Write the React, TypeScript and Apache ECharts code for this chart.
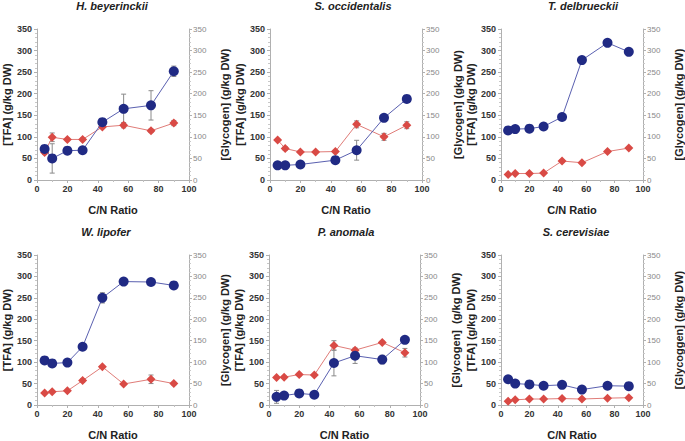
import React, { useEffect, useRef } from "react";
import * as echarts from "echarts";

const CN = [5, 10, 20, 30, 43, 57, 75, 90];
const X_TICKS = [0, 20, 40, 60, 80, 100];
const Y_TICKS = [0, 50, 100, 150, 200, 250, 300, 350];

const TITLES = ["H. beyerinckii", "S. occidentalis", "T. delbrueckii", "W. lipofer", "P. anomala", "S. cerevisiae"];
const LEFT_NAME = "[TFA] (g/kg DW)";
const RIGHT_NAMES = [
  "[Glycogen] (g/kg DW)",
  "[Glycogen] (gkg DW)",
  "[Glycogen] (g/kg DW)",
  "[Glycogen] (g/kg DW)",
  "[Glycogen]  (g/kg DW)",
  "[Glycoggen] (g/kg DW)",
];
const X_NAME = "C/N Ratio";

// H. beyerinckii
const TFA_HB = [72, 50, 68, 69, 134, 165, 173, 252];
const TFA_ERR_HB = [4, 34, 3, 3, 4, 34, 34, 12];
const GLY_HB = [64, 99, 94, 94, 123, 127, 114, 132];
const GLY_ERR_HB = [5, 10, 3, 3, 3, 6, 4, 6];
// S. occidentalis
const TFA_SO = [34, 34, 36, null, 46, 69, 144, 188];
const TFA_ERR_SO = [5, 3, 3, 0, 3, 23, 3, 3];
const GLY_SO = [93, 73, 65, 65, 66, 129, 100, 127];
const GLY_ERR_SO = [3, 4, 3, 3, 3, 8, 8, 8];
// T. delbrueckii
const TFA_TD = [115, 118, 119, 124, 146, 278, 318, 297];
const TFA_ERR_TD = [4, 4, 5, 5, 4, 3, 4, 7];
const GLY_TD = [13, 15, 15, 16, 44, 40, 66, 74];
const GLY_ERR_TD = [2, 2, 2, 2, 3, 2, 3, 2];
// W. lipofer
const TFA_WL = [104, 97, 99, 136, 250, 288, 287, 279];
const TFA_ERR_WL = [3, 3, 3, 4, 12, 3, 3, 3];
const GLY_WL = [28, 31, 33, 57, 89, 49, 60, 50];
const GLY_ERR_WL = [2, 2, 2, 4, 3, 3, 10, 3];
// P. anomala
const TFA_PA = [19, 22, 27, 24, 98, 115, 106, 152];
const TFA_ERR_PA = [15, 3, 3, 3, 30, 18, 10, 3];
const GLY_PA = [64, 65, 71, 70, 139, 128, 146, 122];
const GLY_ERR_PA = [2, 2, 3, 2, 11, 3, 3, 10];
// S. cerevisiae
const TFA_SC = [60, 50, 48, 45, 47, 36, 45, 44];
const TFA_ERR_SC = [8, 3, 3, 3, 3, 5, 3, 3];
const GLY_SC = [9, 12, 14, 14, 15, 14, 16, 17];
const GLY_ERR_SC = [2, 2, 2, 2, 2, 2, 2, 2];

const TFA = [TFA_HB, TFA_SO, TFA_TD, TFA_WL, TFA_PA, TFA_SC];
const TFA_ERR = [TFA_ERR_HB, TFA_ERR_SO, TFA_ERR_TD, TFA_ERR_WL, TFA_ERR_PA, TFA_ERR_SC];
const GLY = [GLY_HB, GLY_SO, GLY_TD, GLY_WL, GLY_PA, GLY_SC];
const GLY_ERR = [GLY_ERR_HB, GLY_ERR_SO, GLY_ERR_TD, GLY_ERR_WL, GLY_ERR_PA, GLY_ERR_SC];

const FONT = "Liberation Sans, Arial, sans-serif";

const GRIDS = [
  { left: 35, top: 29, width: 154, height: 151 },
  { left: 270, top: 29, width: 152, height: 151 },
  { left: 501, top: 29, width: 151, height: 151 },
  { left: 35, top: 255, width: 154, height: 153 },
  { left: 269, top: 255, width: 151, height: 153 },
  { left: 501, top: 255, width: 150, height: 153 },
];
const TITLE_POS = [
  [112, 6], [353, 6], [583, 6], [106, 232], [346, 232], [576, 232],
];

function errRender(params: any, api: any) {
  const x = api.value(0);
  const lo = api.coord([x, api.value(1)]);
  const hi = api.coord([x, api.value(2)]);
  const style = { stroke: "#8a8a8a", lineWidth: 1 };
  const c = 2.5;
  return {
    type: "group",
    children: [
      { type: "line", shape: { x1: lo[0], y1: lo[1], x2: hi[0], y2: hi[1] }, style },
      { type: "line", shape: { x1: lo[0] - c, y1: lo[1], x2: lo[0] + c, y2: lo[1] }, style },
      { type: "line", shape: { x1: hi[0] - c, y1: hi[1], x2: hi[0] + c, y2: hi[1] }, style },
    ],
  };
}

export default function App() {
  const ref = useRef<HTMLDivElement>(null);
  useEffect(() => {
    if (!ref.current) return;
    const chart = echarts.init(ref.current, null, { renderer: "svg" });
    const axisLine = { show: true, lineStyle: { color: "#b0b0b0", width: 1 } };
    const grid: any[] = [];
    const xAxis: any[] = [];
    const yAxis: any[] = [];
    const series: any[] = [];
    const graphic: any[] = [];
    GRIDS.forEach((g, i) => {
      grid.push({ ...g, containLabel: false });
      xAxis.push({
        type: "value",
        gridIndex: i,
        min: X_TICKS[0],
        max: X_TICKS[X_TICKS.length - 1],
        interval: X_TICKS[1] - X_TICKS[0],
        axisLine,
        axisTick: { show: true, length: 3, lineStyle: { color: "#b0b0b0" } },
        minorTick: { show: true, splitNumber: 2, length: 2, lineStyle: { color: "#c0c0c0" } },
        splitLine: { show: false },
        axisLabel: { fontFamily: FONT, fontSize: 9, fontWeight: "bold", color: "#333", margin: 4 },
        name: X_NAME,
        nameLocation: "middle",
        nameGap: 24,
        nameTextStyle: { fontFamily: FONT, fontSize: 11, fontWeight: "bold", color: "#222" },
      });
      yAxis.push({
        type: "value",
        gridIndex: i,
        position: "left",
        min: Y_TICKS[0],
        max: Y_TICKS[Y_TICKS.length - 1],
        interval: Y_TICKS[1] - Y_TICKS[0],
        axisLine,
        axisTick: { show: true, length: 3, lineStyle: { color: "#b0b0b0" } },
        minorTick: { show: true, splitNumber: 5, length: 2, lineStyle: { color: "#c8c8c8" } },
        splitLine: { show: false },
        axisLabel: { fontFamily: FONT, fontSize: 9, fontWeight: "bold", color: "#333", margin: 5 },
        name: LEFT_NAME,
        nameLocation: "middle",
        nameGap: 25,
        nameTextStyle: { fontFamily: FONT, fontSize: 11, fontWeight: "bold", color: "#222" },
      });
      yAxis.push({
        type: "value",
        gridIndex: i,
        position: "right",
        min: Y_TICKS[0],
        max: Y_TICKS[Y_TICKS.length - 1],
        interval: Y_TICKS[1] - Y_TICKS[0],
        axisLine,
        axisTick: { show: true, length: 3, lineStyle: { color: "#b0b0b0" } },
        minorTick: { show: true, splitNumber: 5, length: 2, lineStyle: { color: "#c8c8c8" } },
        splitLine: { show: false },
        axisLabel: { fontFamily: FONT, fontSize: 8, color: "#888", margin: 4 },
        name: RIGHT_NAMES[i],
        nameLocation: "middle",
        nameGap: 30,
        nameRotate: 90,
        nameTextStyle: { fontFamily: FONT, fontSize: 11, fontWeight: "bold", color: "#222" },
      });
      const glyData = CN.map((x, k) => [x, GLY[i][k]]).filter((d) => d[1] != null);
      const tfaData = CN.map((x, k) => [x, TFA[i][k]]).filter((d) => d[1] != null);
      const glyErr = CN.map((x, k) => [x, GLY[i][k] - GLY_ERR[i][k], GLY[i][k] + GLY_ERR[i][k]]).filter(
        (d, k) => GLY[i][k] != null
      );
      const tfaErr = CN.map((x, k) => [x, (TFA[i][k] as number) - TFA_ERR[i][k], (TFA[i][k] as number) + TFA_ERR[i][k]]).filter(
        (d, k) => TFA[i][k] != null
      );
      series.push({
        type: "custom",
        xAxisIndex: i,
        yAxisIndex: i * 2 + 1,
        data: glyErr,
        renderItem: errRender,
        z: 1,
      });
      series.push({
        type: "custom",
        xAxisIndex: i,
        yAxisIndex: i * 2,
        data: tfaErr,
        renderItem: errRender,
        z: 1,
      });
      series.push({
        type: "line",
        name: "Glycogen",
        xAxisIndex: i,
        yAxisIndex: i * 2 + 1,
        data: glyData,
        symbol: "diamond",
        symbolSize: 9,
        itemStyle: { color: "#d94a45", borderWidth: 0 },
        lineStyle: { color: "#e07c78", width: 1 },
        z: 3,
      });
      series.push({
        type: "line",
        name: "TFA",
        xAxisIndex: i,
        yAxisIndex: i * 2,
        data: tfaData,
        symbol: "circle",
        symbolSize: 10,
        itemStyle: { color: "#202a84", borderWidth: 0 },
        lineStyle: { color: "#5a60b0", width: 1 },
        z: 5,
      });
      graphic.push({
        type: "text",
        x: TITLE_POS[i][0],
        y: TITLE_POS[i][1],
        style: {
          text: TITLES[i],
          fontFamily: FONT,
          fontSize: 11,
          fontWeight: "bold",
          fontStyle: "italic",
          fill: "#222",
          textAlign: "center",
          textVerticalAlign: "middle",
        },
      });
    });
    chart.setOption({
      animation: false,
      backgroundColor: "#ffffff",
      grid,
      xAxis,
      yAxis,
      series,
      graphic,
    });
    return () => chart.dispose();
  }, []);
  return (
    <div
      ref={ref}
      style={{ position: "fixed", left: 0, top: 0, width: 685, height: 441, background: "#fff" }}
    />
  );
}
